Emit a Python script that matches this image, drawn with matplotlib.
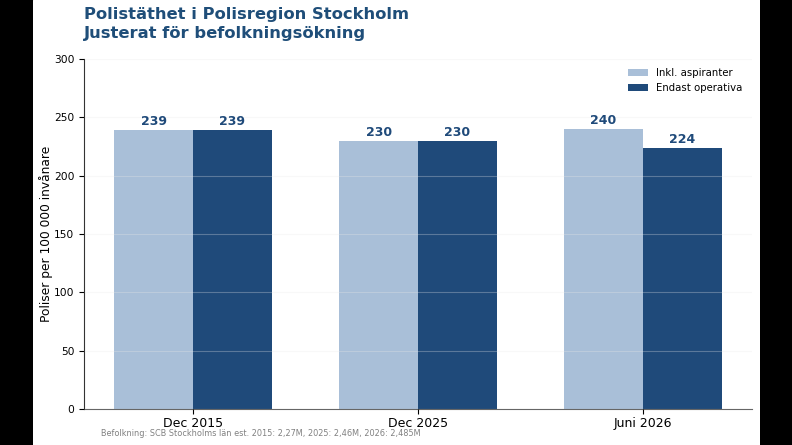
import numpy as np
import matplotlib
matplotlib.use("Agg")
import matplotlib.pyplot as plt

plt.rcParams["font.family"] = ["DejaVu Sans"]

# data
categories = ["Dec 2015", "Dec 2025", "Juni 2026"]
inkl_aspiranter = [239, 230, 240]
endast_operativa = [239, 230, 224]

light = "#a9bfd8"
dark = "#1f4a7a"

fig = plt.figure(figsize=(7.92, 4.45), dpi=100)
fig.patch.set_facecolor("black")
# white content area (letterboxed)
bg = fig.add_axes([33 / 792, 0, (760 - 33) / 792, 1], zorder=-10)
bg.set_axis_off()
bg.add_patch(plt.Rectangle((0, 0), 1, 1, transform=bg.transAxes, color="white"))

ax = fig.add_axes([84 / 792, 1 - 409 / 445, (752 - 84) / 792, (409 - 59) / 445], zorder=1)
ax.set_facecolor("white")

x = np.arange(len(categories))
w = 0.35
b1 = ax.bar(x - w / 2, inkl_aspiranter, w, color=light, label="Inkl. aspiranter", zorder=2)
b2 = ax.bar(x + w / 2, endast_operativa, w, color=dark, label="Endast operativa", zorder=2)

for bars in (b1, b2):
    for r in bars:
        ax.text(r.get_x() + r.get_width() / 2, r.get_height() + 1.5, f"{int(r.get_height())}",
                ha="center", va="bottom", fontsize=9, fontweight="bold", color=dark)

ax.set_ylim(0, 300)
ax.set_yticks(range(0, 301, 50))
ax.set_xticks(x)
ax.set_xticklabels(categories, fontsize=9)
ax.tick_params(axis="x", pad=2)
ax.tick_params(axis="y", labelsize=7.7)
ax.set_ylabel("Poliser per 100 000 invånare", fontsize=8.8)
ax.yaxis.set_label_coords((53 - 84) / 668, 0.5)
ax.yaxis.grid(True, color="#e8e8e8", alpha=0.3, linewidth=0.8, zorder=3)
ax.set_axisbelow(False)
for s in ("top", "right"):
    ax.spines[s].set_visible(False)
ax.spines["bottom"].set_color("#666666")
ax.spines["left"].set_color("#333333")

ax.legend(loc="upper right", frameon=False, fontsize=7.3)

fig.text(84 / 792, 1 - 7 / 445, "Polistäthet i Polisregion Stockholm\nJusterat för befolkningsökning",
         ha="left", va="top", fontsize=11.8, fontweight="bold", color="#1f4e79", linespacing=1.3)
fig.text(101 / 792, 1 - 433 / 445,
         "Befolkning: SCB Stockholms län est. 2015: 2,27M, 2025: 2,46M, 2026: 2,485M",
         ha="left", va="center", fontsize=5.9, color="gray")

fig.savefig("out.png", dpi=100, facecolor=fig.get_facecolor())
